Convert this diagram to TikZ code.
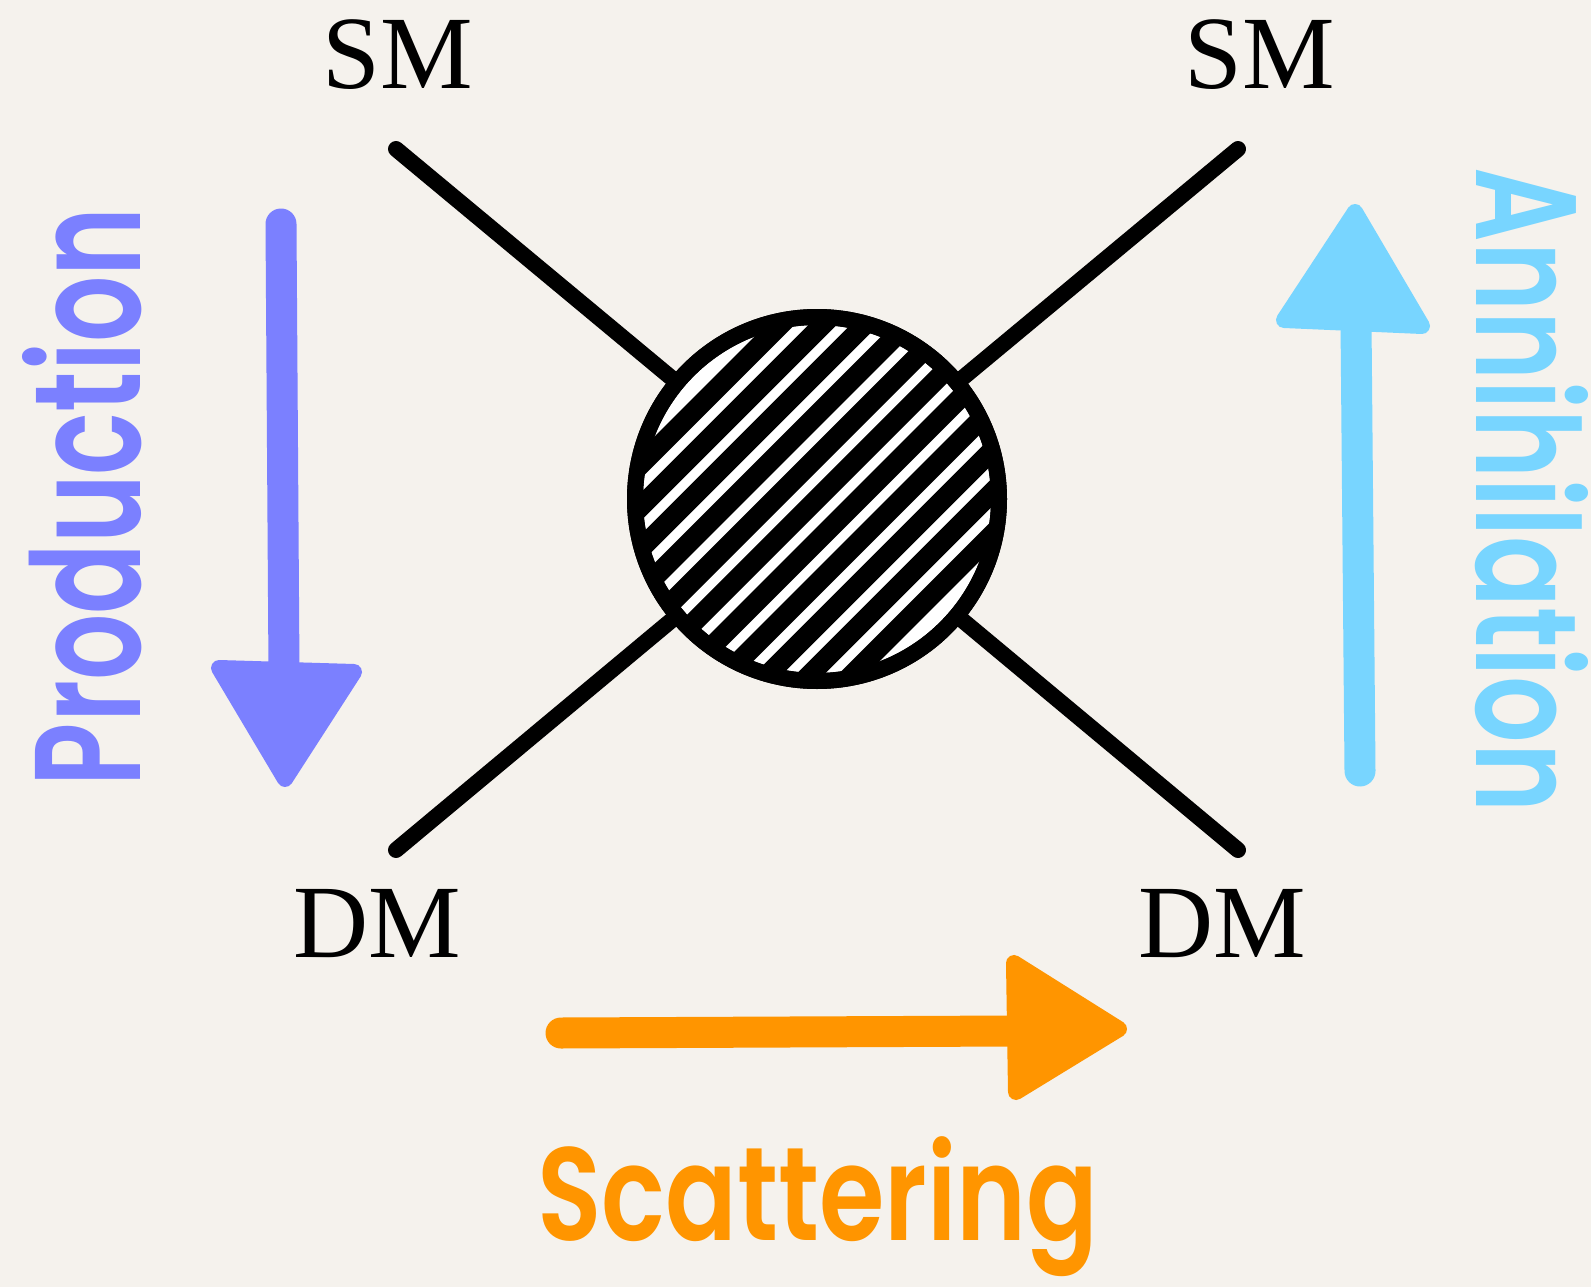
\documentclass[tikz,border=0pt]{standalone}
\usepackage{graphicx}
\usepackage{fontspec}
\setmainfont{Liberation Serif}
\newfontfamily\handfont{Poppins}[UprightFont={* SemiBold}]
\usetikzlibrary{calc}
\definecolor{bg}{HTML}{F5F2ED}
\definecolor{prodc}{HTML}{7B80FF}
\definecolor{annc}{HTML}{78D5FF}
\definecolor{scatc}{HTML}{FF9500}
\begin{document}
\begin{tikzpicture}[x=1pt,y=-1pt,
  leg/.style={line width=16pt, line cap=round},
  blobstyle/.style={circle, draw, line width=16pt, fill=white, minimum size=364pt, inner sep=0pt},
  hatchfill/.style={fill=black},
  partlabel/.style={font=\fontsize{104}{110}\selectfont, inner sep=0pt, anchor=base},
  hand/.style={font=\handfont, inner sep=0pt},
  arrowshaft/.style={line width=31pt, line cap=round},
  arrowhead/.style={line width=16pt, line join=round}]
\useasboundingbox (0,0) rectangle (1591,1287);
\fill[bg] (0,0) rectangle (1591,1287);

% blob
\node[blobstyle] (blob) at (817,499) {};
\begin{scope}[shift={(blob.center)}]
  \clip (0,0) circle[radius=178];
  \foreach \k in {-5,...,5} {
    \pgfmathsetmacro{\da}{(\k*29.8-10)*0.7071}
    \pgfmathsetmacro{\db}{(\k*29.8+10)*0.7071}
    \fill[hatchfill] ({\da-160},{\da+160}) -- ({\da+160},{\da-160})
      -- ({\db+160},{\db-160}) -- ({\db-160},{\db+160}) -- cycle;
  }
\end{scope}
\draw[line width=16pt] (blob.center) circle[radius=182];

% legs
\coordinate (smA) at (396,149);
\coordinate (smB) at (1238,149);
\coordinate (dmA) at (396,850);
\coordinate (dmB) at (1238,850);
\draw[leg] (smA) -- (blob);
\draw[leg] (smB) -- (blob);
\draw[leg] (dmA) -- (blob);
\draw[leg] (dmB) -- (blob);

% labels
\node[partlabel] (smAl) at (398,89) {SM};
\node[partlabel] (smBl) at (1260,89) {SM};
\node[partlabel] (dmAl) at (377,957) {DM};
\node[partlabel] (dmBl) at (1222,957) {DM};

% Production
\draw[arrowshaft, prodc] (281,224) -- (284,672);
\filldraw[arrowhead, prodc] (219,668) -- (354,672) -- (285,779) -- cycle;
\node[hand, text=prodc, rotate=90] (prod) at (82,497) {\resizebox{578pt}{118pt}{Production}};

% Annihilation
\draw[arrowshaft, annc] (1360,771) -- (1356,322);
\filldraw[arrowhead, annc] (1284,320) -- (1422,326) -- (1355,212) -- cycle;
\node[hand, text=annc, rotate=-90] (ann) at (1532,490) {\resizebox{645pt}{112pt}{Annihilation}};

% Scattering
\draw[arrowshaft, scatc] (561,1033) -- (1015,1031);
\filldraw[arrowhead, scatc] (1014,963) -- (1016,1092) -- (1119,1029) -- cycle;
\node[hand, text=scatc, anchor=north] (scat) at (818,1136) {\resizebox*{561pt}{140pt}{Scattering}};
\end{tikzpicture}
\end{document}
